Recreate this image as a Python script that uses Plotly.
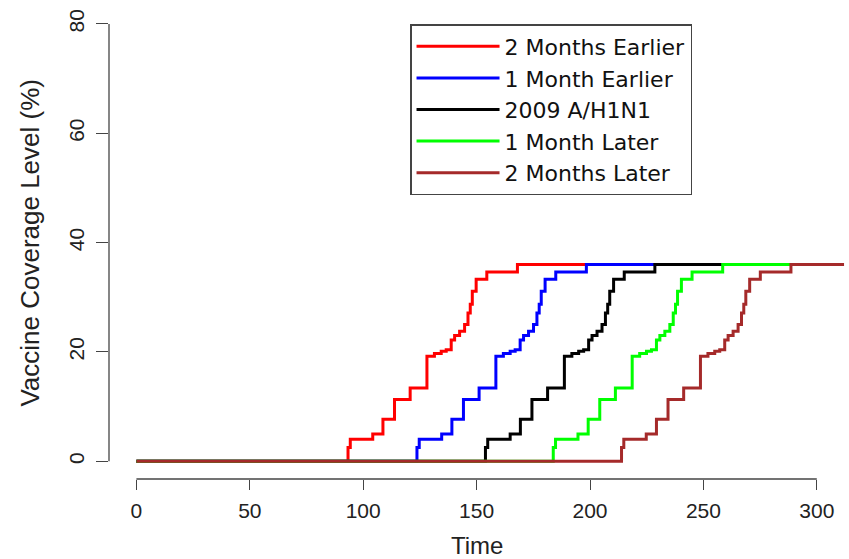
import plotly.graph_objects as go

# Coverage levels (%) reached at each delivery step (same schedule shape for all scenarios)
coverage_levels = [2.5, 4.0, 5.0, 7.7, 11.3, 13.4, 19.2, 19.7, 20.1, 20.4, 22.2, 23.0,
                   23.8, 25.0, 27.1, 28.7, 31.1, 33.3, 34.6, 36.0]

# Step times (days) for each scenario
t_2m_earlier = [93.3, 94.3, 104.2, 108.7, 113.8, 120.7, 128.1, 131.4, 134.4, 136.6, 138.8,
                140.3, 142.5, 144.7, 146.2, 147.2, 148.1, 149.8, 154.5, 168.0]
t_1m_earlier = [123.7, 124.7, 134.6, 139.1, 144.2, 151.1, 158.5, 161.8, 164.8, 167.0, 169.2,
                170.7, 172.9, 175.1, 176.6, 177.6, 178.5, 180.2, 184.9, 198.4]
t_2009 = [153.9, 154.9, 164.8, 169.3, 174.4, 181.3, 188.7, 192.0, 195.0, 197.2, 199.4,
          200.9, 203.1, 205.3, 206.8, 207.8, 208.7, 210.4, 215.1, 228.6]
t_1m_later = [183.8, 184.8, 194.7, 199.2, 204.3, 211.2, 218.6, 221.9, 224.9, 227.1, 229.3,
              230.8, 233.0, 235.2, 236.7, 237.7, 238.6, 240.3, 245.0, 258.5]
t_2m_later = [213.9, 214.9, 224.8, 229.3, 234.4, 241.3, 248.7, 252.0, 255.0, 257.2, 259.4,
              260.9, 263.1, 265.3, 266.8, 267.8, 268.7, 270.4, 275.1, 288.6]

t_start = 0
t_end = 312

series_names = ["2 Months Earlier", "1 Month Earlier", "2009 A/H1N1", "1 Month Later", "2 Months Later"]
series_times = [t_2m_earlier, t_1m_earlier, t_2009, t_1m_later, t_2m_later]
series_colors = ["#FF0000", "#0000FF", "#000000", "#00FF00", "#A52A2A"]

x_ticks = [0, 50, 100, 150, 200, 250, 300]
y_ticks = [0, 20, 40, 60, 80]

FONT = "Liberation Sans, Arial, Helvetica, sans-serif"
LEGEND_FONT = "DejaVu Sans, Liberation Sans, Arial, sans-serif"

fig = go.Figure()
for name, times, color in zip(series_names, series_times, series_colors):
    xs = [t_start] + times + [t_end]
    ys = [0] + coverage_levels + [coverage_levels[-1]]
    fig.add_trace(go.Scatter(
        x=xs, y=ys, mode="lines", name=name,
        line=dict(color=color, width=3, shape="hv"),
    ))

# R-style detached axis lines spanning the tick range
fig.add_shape(type="line", xref="x", yref="paper", x0=x_ticks[0], x1=x_ticks[-1], y0=0, y1=0,
              line=dict(color="#444444", width=1.3))
fig.add_shape(type="line", xref="paper", yref="y", x0=0, x1=0, y0=y_ticks[0], y1=y_ticks[-1],
              line=dict(color="#444444", width=1.3))

fig.add_annotation(text="Time", xref="x", yref="paper", x=150, y=0, yshift=-66,
                   xanchor="center", yanchor="middle", showarrow=False,
                   font=dict(family=FONT, size=24, color="#222222"))
fig.add_annotation(text="Vaccine Coverage Level (%)", xref="paper", yref="y", x=0, y=40,
                   xshift=-79, xanchor="center", yanchor="middle", textangle=-90,
                   showarrow=False, font=dict(family=FONT, size=26, color="#222222"))

fig.update_layout(
    width=849, height=559,
    margin=dict(l=109, r=0, t=8, b=80),
    paper_bgcolor="white", plot_bgcolor="white",
    font=dict(family=FONT, color="#222222"),
    xaxis=dict(range=[-12.09, 314.2], tickvals=x_ticks, ticks="outside", ticklen=10,
               tickwidth=1.3, tickcolor="#444444", showline=False, showgrid=False,
               zeroline=False, ticklabelstandoff=3, tickfont=dict(size=21, family=FONT)),
    yaxis=dict(range=[-3.25, 82.92], tickvals=y_ticks, ticks="outside", ticklen=12,
               tickwidth=1.3, tickcolor="#444444", showline=False, showgrid=False,
               zeroline=False, tickangle=-90, ticklabelstandoff=4,
               tickfont=dict(size=21, family=FONT)),
    legend=dict(x=0.4068, y=0.966, xanchor="left", yanchor="top",
                bgcolor="white", bordercolor="#444444", borderwidth=1.5,
                font=dict(size=22, family=LEGEND_FONT, color="#111111"),
                itemwidth=83, tracegroupgap=0),
    showlegend=True,
)

fig.write_html("out.html", config={"displayModeBar": False},
               post_script="document.body.style.margin='0';document.body.style.overflow='hidden';")
